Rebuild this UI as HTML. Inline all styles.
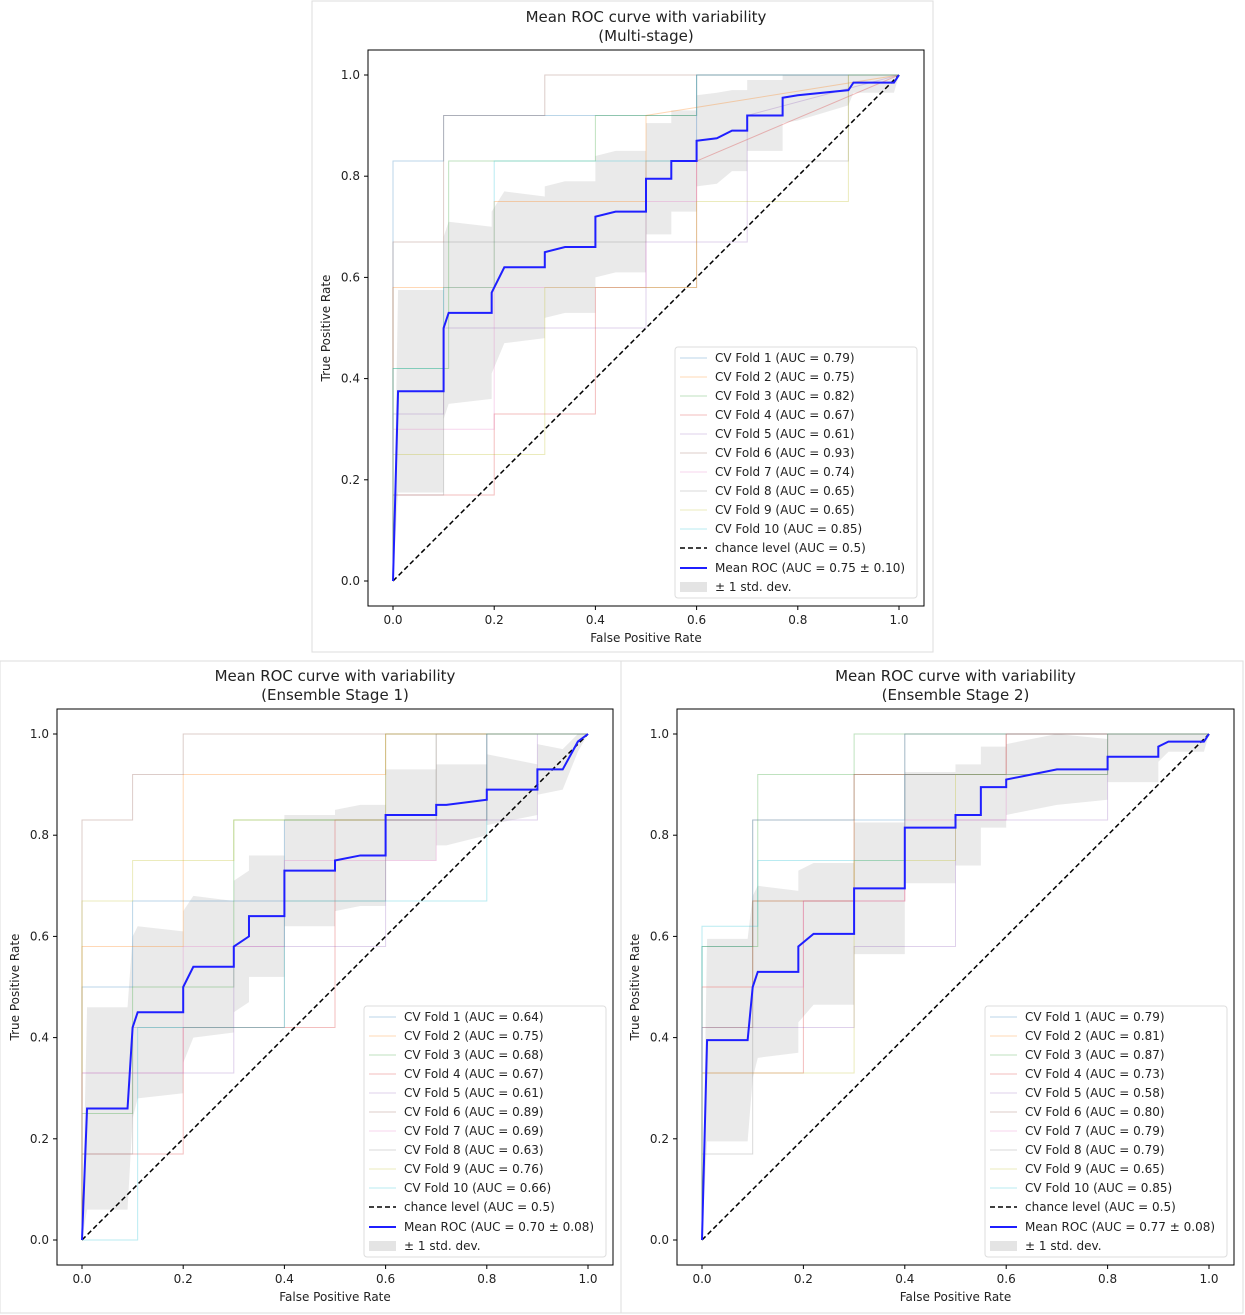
<!DOCTYPE html>
<html><head><meta charset="utf-8">
<style>
body{margin:0;background:#fff;width:1245px;height:1315px;overflow:hidden;font-family:"DejaVu Sans","Liberation Sans",sans-serif;}
svg{position:absolute;left:0;top:0}
text{font-family:"DejaVu Sans","Liberation Sans",sans-serif;fill:#222}
</style></head>
<body>
<svg id="root" width="1245" height="1315"></svg>
<script>
// ---------- DATA ----------
const foldColors = ["#1f77b4","#ff7f0e","#2ca02c","#d62728","#9467bd","#8c564b","#e377c2","#7f7f7f","#bcbd22","#17becf"];
// Top panel (Multi-stage)
const topTitle = ["Mean ROC curve with variability","(Multi-stage)"];
const topAUC = ["0.79","0.75","0.82","0.67","0.61","0.93","0.74","0.65","0.65","0.85"];
const topMeanLabel = "Mean ROC (AUC = 0.75 ± 0.10)";
const topMeanX = [0,0.01,0.1,0.1,0.11,0.195,0.195,0.22,0.3,0.3,0.34,0.4,0.4,0.44,0.5,0.5,0.55,0.55,0.6,0.6,0.64,0.67,0.7,0.7,0.77,0.77,0.8,0.9,0.91,0.99,1];
const topMeanY = [0,0.375,0.375,0.5,0.53,0.53,0.57,0.62,0.62,0.65,0.66,0.66,0.72,0.73,0.73,0.795,0.795,0.83,0.83,0.87,0.875,0.89,0.89,0.92,0.92,0.955,0.96,0.97,0.985,0.985,1];
const topStd = [0,0.2,0.2,0.18,0.18,0.17,0.16,0.15,0.14,0.13,0.13,0.13,0.12,0.12,0.12,0.11,0.11,0.1,0.1,0.09,0.09,0.08,0.08,0.07,0.07,0.05,0.05,0.03,0.02,0.02,0];
const topFoldX = [
 [0,0,0.1,0.1,0.6,0.6,1],[0,0,0.2,0.2,0.5,0.5,1],[0,0,0.11,0.11,0.4,0.4,0.6,0.6,1],
 [0,0,0.2,0.2,0.4,0.4,0.6,0.6,1],[0,0,0.1,0.1,0.5,0.5,0.7,0.7,1],[0,0,0.1,0.1,0.3,0.3,1],
 [0,0,0.2,0.2,0.5,0.5,0.6,0.6,1],[0,0,0.1,0.1,0.5,0.5,0.9,0.9,1],[0,0,0.3,0.3,0.6,0.6,0.9,0.9,1],[0,0,0.1,0.1,0.2,0.2,0.6,0.6,1]];
const topFoldY = [
 [0,0.83,0.83,0.92,0.92,1,1],[0,0.58,0.58,0.75,0.75,0.92,1],[0,0.42,0.42,0.83,0.83,0.92,0.92,1,1],
 [0,0.17,0.17,0.33,0.33,0.58,0.58,0.83,1],[0,0.33,0.33,0.5,0.5,0.67,0.67,0.92,1],[0,0.67,0.67,0.92,0.92,1,1],
 [0,0.3,0.3,0.58,0.58,0.75,0.75,1,1],[0,0.17,0.17,0.67,0.67,0.83,0.83,1,1],[0,0.25,0.25,0.58,0.58,0.75,0.75,1,1],[0,0.42,0.42,0.58,0.58,0.83,0.83,1,1]];
// Bottom left (Ensemble Stage 1)
const s1Title = ["Mean ROC curve with variability","(Ensemble Stage 1)"];
const s1AUC = ["0.64","0.75","0.68","0.67","0.61","0.89","0.69","0.63","0.76","0.66"];
const s1MeanLabel = "Mean ROC (AUC = 0.70 ± 0.08)";
const s1MeanX = [0,0.01,0.09,0.1,0.11,0.2,0.2,0.22,0.3,0.3,0.33,0.33,0.4,0.4,0.5,0.5,0.55,0.6,0.6,0.7,0.7,0.72,0.8,0.8,0.9,0.9,0.95,0.98,1];
const s1MeanY = [0,0.26,0.26,0.42,0.45,0.45,0.5,0.54,0.54,0.58,0.6,0.64,0.64,0.73,0.73,0.75,0.76,0.76,0.84,0.84,0.86,0.86,0.87,0.89,0.89,0.93,0.93,0.985,1];
const s1Std = [0,0.2,0.2,0.18,0.17,0.16,0.15,0.14,0.13,0.13,0.13,0.12,0.12,0.11,0.11,0.1,0.1,0.1,0.09,0.09,0.08,0.08,0.07,0.07,0.05,0.05,0.04,0.02,0];
const s1FoldX = [
 [0,0,0.1,0.1,0.4,0.4,0.8,0.8,1],[0,0,0.2,0.2,0.6,0.6,1],[0,0,0.1,0.1,0.3,0.3,0.7,0.7,1],
 [0,0,0.2,0.2,0.5,0.5,0.8,0.8,1],[0,0,0.3,0.3,0.6,0.6,0.9,0.9,1],[0,0,0.1,0.1,0.2,0.2,1],
 [0,0,0.2,0.2,0.4,0.4,0.7,0.7,1],[0,0,0.1,0.1,0.4,0.4,0.6,0.6,1],[0,0,0.1,0.1,0.3,0.3,0.6,0.6,1],[0,0,0.11,0.11,0.4,0.4,0.8,0.8,1]];
const s1FoldY = [
 [0,0.5,0.5,0.67,0.67,0.83,0.83,1,1],[0,0.58,0.58,0.92,0.92,1,1],[0,0.25,0.25,0.5,0.5,0.83,0.83,1,1],
 [0,0.17,0.17,0.42,0.42,0.83,0.83,1,1],[0,0.33,0.33,0.58,0.58,0.83,0.83,1,1],[0,0.83,0.83,0.92,0.92,1,1],
 [0,0.33,0.33,0.58,0.58,0.75,0.75,1,1],[0,0.17,0.17,0.42,0.42,0.67,0.67,1,1],[0,0.67,0.67,0.75,0.75,0.83,0.83,1,1],[0,0,0,0.42,0.42,0.67,0.67,1,1]];
// Bottom right (Ensemble Stage 2)
const s2Title = ["Mean ROC curve with variability","(Ensemble Stage 2)"];
const s2AUC = ["0.79","0.81","0.87","0.73","0.58","0.80","0.79","0.79","0.65","0.85"];
const s2MeanLabel = "Mean ROC (AUC = 0.77 ± 0.08)";
const s2MeanX = [0,0.01,0.09,0.1,0.11,0.19,0.19,0.22,0.27,0.3,0.3,0.4,0.4,0.5,0.5,0.55,0.55,0.6,0.6,0.65,0.7,0.8,0.8,0.9,0.9,0.92,0.99,1];
const s2MeanY = [0,0.395,0.395,0.5,0.53,0.53,0.58,0.605,0.605,0.605,0.695,0.695,0.815,0.815,0.84,0.84,0.895,0.895,0.91,0.92,0.93,0.93,0.955,0.955,0.975,0.985,0.985,1];
const s2Std = [0,0.2,0.2,0.18,0.17,0.16,0.15,0.14,0.14,0.14,0.13,0.13,0.11,0.11,0.1,0.1,0.08,0.08,0.07,0.07,0.07,0.06,0.05,0.05,0.03,0.02,0.02,0];
const s2FoldX = [
 [0,0,0.1,0.1,0.4,0.4,1],[0,0,0.1,0.1,0.3,0.3,0.6,0.6,1],[0,0,0.11,0.11,0.3,0.3,1],
 [0,0,0.2,0.2,0.4,0.4,0.8,0.8,1],[0,0,0.3,0.3,0.5,0.5,0.8,0.8,1],[0,0,0.1,0.1,0.3,0.3,0.6,0.6,1],
 [0,0,0.2,0.2,0.4,0.4,0.6,0.6,1],[0,0,0.1,0.1,0.3,0.3,0.4,0.4,1],[0,0,0.3,0.3,0.5,0.5,0.8,0.8,1],[0,0,0.11,0.11,0.4,0.4,0.8,0.8,1]];
const s2FoldY = [
 [0,0.58,0.58,0.83,0.83,1,1],[0,0.5,0.5,0.67,0.67,0.92,0.92,1,1],[0,0.58,0.58,0.92,0.92,1,1],
 [0,0.33,0.33,0.67,0.67,0.92,0.92,1,1],[0,0.42,0.42,0.58,0.58,0.83,0.83,1,1],[0,0.42,0.42,0.67,0.67,0.92,0.92,1,1],
 [0,0.5,0.5,0.67,0.67,0.83,0.83,1,1],[0,0.17,0.17,0.83,0.83,0.92,0.92,1,1],[0,0.33,0.33,0.75,0.75,0.92,0.92,1,1],[0,0.62,0.62,0.75,0.75,0.92,0.92,1,1]];
const tickVals = [0,0.2,0.4,0.6,0.8,1.0];
const tickLabels = ["0.0","0.2","0.4","0.6","0.8","1.0"];

// ---------- DRAW ----------
const NS = "http://www.w3.org/2000/svg";
const root = document.getElementById('root');
function mk(tag, attrs, parent){const e=document.createElementNS(NS,tag);for(const k in attrs)e.setAttribute(k,attrs[k]);(parent||root).appendChild(e);return e;}
function txt(s, attrs, parent){const e=mk('text',attrs,parent);e.textContent=s;return e;}

function panel(name, fig, ax, title, auc, meanLabel, mx, my, sd, fx, fy, leg){
  const g = mk('g',{});
  
  
  const fr = mk('rect',{x:fig[0],y:fig[1],width:fig[2],height:fig[3],fill:'#fff',stroke:'#ddd'},g);
  
  
  const x0=ax[0]+25, x1=ax[0]+ax[2]-25, y0=ax[1]+ax[3]-25, y1=ax[1]+25;
  const sx=v=>x0+v*(x1-x0), sy=v=>y0+v*(y1-y0);
  // band
  let up=[],lo=[];
  for(let i=0;i<mx.length;i++){up.push(sx(mx[i])+','+sy(Math.min(1,my[i]+sd[i])));lo.push(sx(mx[i])+','+sy(Math.max(0,my[i]-sd[i])));}
  const band=mk('polygon',{points:up.concat(lo.reverse()).join(' '),fill:'#bbb','fill-opacity':0.3,stroke:'none'},g);
  
  
  for(let f=0;f<fx.length;f++){
    const pts=fx[f].map((v,i)=>sx(v)+','+sy(fy[f][i])).join(' ');
    const l=mk('polyline',{points:pts,fill:'none',stroke:foldColors[f],'stroke-opacity':0.3,'stroke-width':1},g);
    
    
  }
  const ch=mk('line',{x1:sx(0),y1:sy(0),x2:sx(1),y2:sy(1),stroke:'#000','stroke-width':1.5,'stroke-dasharray':'5,3'},g);
  
  
  const mp=mk('polyline',{points:mx.map((v,i)=>sx(v)+','+sy(my[i])).join(' '),fill:'none',stroke:'#1f1fff','stroke-width':2},g);
  
  
  const ab=mk('rect',{x:ax[0],y:ax[1],width:ax[2],height:ax[3],fill:'none',stroke:'#000','stroke-width':1},g);
  
  
  tickVals.forEach((v,i)=>{
    mk('line',{x1:sx(v),y1:ax[1]+ax[3],x2:sx(v),y2:ax[1]+ax[3]+4,stroke:'#000'},g);
    const t=txt(tickLabels[i],{x:sx(v),y:ax[1]+ax[3]+18,'text-anchor':'middle','font-size':12},g);
    
    
    mk('line',{x1:ax[0],y1:sy(v),x2:ax[0]-4,y2:sy(v),stroke:'#000'},g);
    const t2=txt(tickLabels[i],{x:ax[0]-8,y:sy(v)+4,'text-anchor':'end','font-size':12},g);
    
    
  });
  const xt=txt('False Positive Rate',{x:ax[0]+ax[2]/2,y:ax[1]+ax[3]+36,'text-anchor':'middle','font-size':12},g);
  
  
  const yx=ax[0]-38, yy=ax[1]+ax[3]/2;
  const yt=txt('True Positive Rate',{x:yx,y:yy,'text-anchor':'middle','font-size':12,transform:'rotate(-90 '+yx+' '+yy+')'},g);
  
  
  const t1=txt(title[0],{x:ax[0]+ax[2]/2,y:ax[1]-28,'text-anchor':'middle','font-size':15},g);
  
  
  const t2=txt(title[1],{x:ax[0]+ax[2]/2,y:ax[1]-9,'text-anchor':'middle','font-size':15},g);
  
  
  // legend
  const lg=mk('g',{},g);
  
  
  mk('rect',{x:leg[0],y:leg[1],width:242,height:251,fill:'#fff','fill-opacity':0.8,stroke:'#ddd',rx:3},lg);
  for(let i=0;i<13;i++){
    const ey=leg[1]+11+i*19;
    const e=mk('g',{},lg);
    
    
    let label;
    if(i<10){mk('line',{x1:leg[0]+5,y1:ey,x2:leg[0]+32,y2:ey,stroke:foldColors[i],'stroke-opacity':0.3},e);label='CV Fold '+(i+1)+' (AUC = '+auc[i]+')';}
    else if(i==10){mk('line',{x1:leg[0]+5,y1:ey,x2:leg[0]+32,y2:ey,stroke:'#000','stroke-width':1.5,'stroke-dasharray':'5,3'},e);label='chance level (AUC = 0.5)';}
    else if(i==11){mk('line',{x1:leg[0]+5,y1:ey+1,x2:leg[0]+32,y2:ey+1,stroke:'#1f1fff','stroke-width':2},e);label=meanLabel;}
    else {mk('rect',{x:leg[0]+5,y:ey-4,width:27,height:10,fill:'#bbb','fill-opacity':0.4},e);label='± 1 std. dev.';}
    txt(label,{x:leg[0]+40,y:ey+(i>=11?5:4),'font-size':12,fill:'#333'},e);
  }
}
panel('multi-stage-panel',[312,1,621,651],[368,50,556,556],topTitle,topAUC,topMeanLabel,topMeanX,topMeanY,topStd,topFoldX,topFoldY,[675,347]);
panel('ensemble-stage1-panel',[0,661,621,652],[57,709,556,556],s1Title,s1AUC,s1MeanLabel,s1MeanX,s1MeanY,s1Std,s1FoldX,s1FoldY,[364,1006]);
panel('ensemble-stage2-panel',[621,661,622,652],[677,709,557,556],s2Title,s2AUC,s2MeanLabel,s2MeanX,s2MeanY,s2Std,s2FoldX,s2FoldY,[985,1006]);
</script>
</body></html>
